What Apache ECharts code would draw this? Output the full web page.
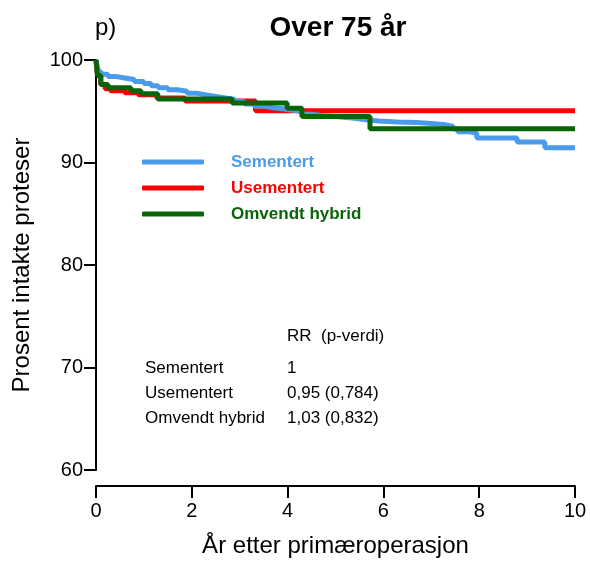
<!DOCTYPE html>
<html>
<head>
<meta charset="utf-8">
<script src="https://cdn.jsdelivr.net/npm/echarts@6/dist/echarts.min.js"></script>
<style>
  html, body { margin: 0; padding: 0; background: #fff; }
  #chart { width: 590px; height: 563px; }
</style>
</head>
<body>
<div id="chart"></div>
<script>
// Kaplan-Meier: tid (år) og prosent intakte proteser
const sementertT = [0, 0.03, 0.07, 0.12, 0.25, 0.4, 0.6, 0.8, 1.0, 1.15, 1.3, 1.5, 1.7, 1.9, 2.1, 2.3, 2.5, 2.7, 2.9, 3.1, 3.3, 3.5, 3.7, 3.9, 4.1, 4.3, 4.5, 4.8, 5.1, 5.35, 5.6, 5.9, 6.3, 6.7, 7.0, 7.25, 7.45, 7.55, 7.8, 7.95, 8.79, 9.37, 10]
const sementertS = [100, 99.3, 98.8, 98.6, 98.4, 98.25, 98.1, 97.9, 97.7, 97.5, 97.3, 97.1, 96.95, 96.75, 96.6, 96.45, 96.3, 96.15, 95.95, 95.7, 95.5, 95.35, 95.25, 95.1, 95.0, 94.7, 94.55, 94.45, 94.35, 94.2, 94.05, 93.95, 93.9, 93.8, 93.7, 93.55, 93.3, 93.0, 92.85, 92.4, 92.0, 91.45, 91.45]

const usementertT = [0, 0.03, 0.1, 0.19, 0.3, 0.6, 0.88, 1.27, 1.86, 3.33, 10]
const usementertS = [100, 98.5, 97.6, 97.2, 97.0, 96.8, 96.6, 96.3, 96.0, 95.05, 95.05]

const hybridT = [0, 0.03, 0.1, 0.25, 0.73, 0.94, 1.29, 2.84, 3.99, 4.3, 5.72, 10]
const hybridS = [100, 98.5, 97.6, 97.3, 97.0, 96.7, 96.2, 95.8, 95.3, 94.5, 93.3, 93.3]

const xTicks = [0, 2, 4, 6, 8, 10]
const yTicks = [60, 70, 80, 90, 100]

const tableHeader = 'RR  (p-verdi)'
const tableLabels = ['Sementert', 'Usementert', 'Omvendt hybrid']
const tableValues = ['1', '0,95 (0,784)', '1,03 (0,832)']

const font = '"Liberation Sans", Arial, Helvetica, sans-serif'
const colors = { Sementert: '#4a9be9', Usementert: '#ff0000', 'Omvendt hybrid': '#0a640a' }

const zip = (t, s) => t.map((v, i) => [v, s[i]])

const chart = echarts.init(document.getElementById('chart'))

const lineSeries = (name, data) => ({
  name,
  type: 'line',
  step: 'end',
  data,
  showSymbol: false,
  symbol: 'none',
  silent: true,
  lineStyle: { width: 5, color: colors[name] },
  itemStyle: { color: colors[name] }
})

// tabell med RR
const tableGraphics = [
  { type: 'text', x: 287, y: 336, style: { text: tableHeader, font: '17px ' + font, fill: '#000', verticalAlign: 'middle' } }
]
tableLabels.forEach((lab, i) => {
  const y = 368 + i * 25
  tableGraphics.push({ type: 'text', x: 145, y, style: { text: lab, font: '17px ' + font, fill: '#000', verticalAlign: 'middle' } })
  tableGraphics.push({ type: 'text', x: 287, y, style: { text: tableValues[i], font: '17px ' + font, fill: '#000', verticalAlign: 'middle' } })
})

const option = {
  animation: false,
  title: [
    {
      text: 'Over 75 år',
      left: 338,
      top: 14,
      textAlign: 'center',
      padding: 0,
      textStyle: { fontFamily: font, fontSize: 28, fontWeight: 'bold', color: '#000' }
    },
    {
      text: 'p)',
      left: 95,
      top: 16,
      padding: 0,
      textStyle: { fontFamily: font, fontSize: 24, fontWeight: 'normal', color: '#000' }
    }
  ],
  legend: {
    orient: 'vertical',
    left: 142,
    top: 152,
    itemWidth: 62,
    itemHeight: 5,
    itemGap: 6,
    icon: 'roundRect',
    selectedMode: false,
    padding: 0,
    textStyle: { fontFamily: font, fontSize: 17, fontWeight: 'bold', lineHeight: 20, padding: [0, 0, 0, 22] },
    data: tableLabels.map(n => ({ name: n, textStyle: { color: colors[n] } }))
  },
  grid: { left: 96, right: 15, top: 60, bottom: 91 },
  xAxis: {
    type: 'value',
    min: xTicks[0],
    max: xTicks[xTicks.length - 1],
    interval: 2,
    offset: 16,
    name: 'År etter primæroperasjon',
    nameLocation: 'middle',
    nameGap: 48,
    nameTextStyle: { fontFamily: font, fontSize: 24, color: '#000' },
    axisLine: { lineStyle: { color: '#000', width: 2 } },
    axisTick: { length: 12, lineStyle: { color: '#000', width: 2 } },
    axisLabel: { fontFamily: font, fontSize: 20, color: '#000', margin: 15 },
    splitLine: { show: false }
  },
  yAxis: {
    type: 'value',
    min: yTicks[0],
    max: yTicks[yTicks.length - 1],
    interval: 10,
    name: 'Prosent intakte proteser',
    nameLocation: 'middle',
    nameGap: 62,
    nameTextStyle: { fontFamily: font, fontSize: 24, color: '#000' },
    axisLine: { show: true, lineStyle: { color: '#000', width: 2 } },
    axisTick: { show: true, length: 12, lineStyle: { color: '#000', width: 2 } },
    axisLabel: { fontFamily: font, fontSize: 20, color: '#000', margin: 13 },
    splitLine: { show: false }
  },
  series: [
    lineSeries('Usementert', zip(usementertT, usementertS)),
    lineSeries('Sementert', zip(sementertT, sementertS)),
    lineSeries('Omvendt hybrid', zip(hybridT, hybridS))
  ],
  graphic: tableGraphics
}

chart.setOption(option)
</script>
</body>
</html>
